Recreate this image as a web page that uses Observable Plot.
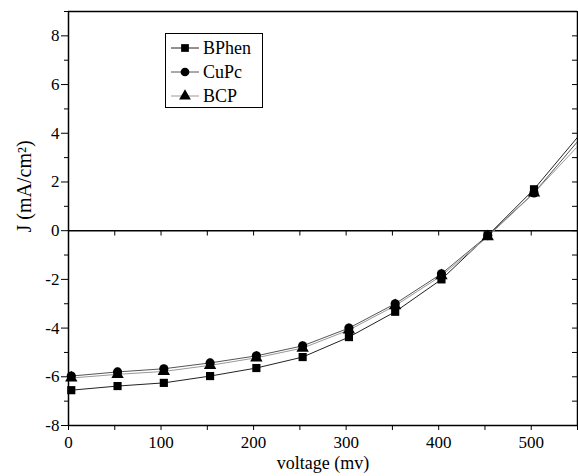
<!DOCTYPE html>
<html>
<head>
<meta charset="utf-8">
<script src="https://cdn.jsdelivr.net/npm/d3@7"></script>
<script src="https://cdn.jsdelivr.net/npm/@observablehq/plot@0.6"></script>
<style>
  html, body { margin: 0; padding: 0; background: white; }
  svg { display: block; }
  svg, svg text { font-family: "Liberation Serif", "Times New Roman", serif !important; }
</style>
</head>
<body>
<div id="chart"></div>
<script>
const voltage = [3, 53, 103, 153, 203, 253, 303, 353, 403, 453, 503, 553];
const bphen = [-6.55, -6.38, -6.25, -5.97, -5.64, -5.19, -4.37, -3.33, -2.0, -0.2, 1.7, 3.97];
const cupc  = [-5.97, -5.80, -5.67, -5.43, -5.14, -4.73, -4.00, -3.00, -1.77, -0.2, 1.55, 3.79];
const bcp   = [-6.05, -5.90, -5.78, -5.53, -5.22, -4.82, -4.08, -3.08, -1.85, -0.25, 1.55, 3.58];
const seriesNames = ["BPhen", "CuPc", "BCP"];
const seriesSymbols = ["square", "circle", "triangle"];
const seriesStrokes = ["#222", "#555", "#999"];
const xTickLabels = [0, 100, 200, 300, 400, 500];
const xMinorTicks = [50, 150, 250, 350, 450, 550];
const yTickLabels = [-8, -6, -4, -2, 0, 2, 4, 6, 8];
const yMinorTicks = [-7, -5, -3, -1, 1, 3, 5, 7, 9];
const xTitle = "voltage (mv)";
const yTitle = "J (mA/cm²)";

const rows = [];
[bphen, cupc, bcp].forEach((vals, i) => {
  vals.forEach((v, j) => rows.push({series: seriesNames[i], x: voltage[j], y: v, i}));
});

const font = "Liberation Serif, Times New Roman, serif";

const plot = Plot.plot({
  width: 578,
  height: 476,
  marginLeft: 68,
  marginRight: 1,
  marginTop: 11,
  marginBottom: 51,
  style: {fontFamily: font, fontSize: "17px", background: "white", color: "black"},
  x: {domain: [0, 550]},
  y: {domain: [-8, 9]},
  marks: [
    Plot.axisX({ticks: xTickLabels, tickSize: 5, tickPadding: 5, fontSize: 17, tickFormat: d => String(d), label: null}),
    Plot.axisX({ticks: xMinorTicks, tickSize: 5, text: null, label: null}),
    Plot.axisY({ticks: yTickLabels, tickSize: 7, tickPadding: 2, fontSize: 17, tickFormat: d => String(d), label: null}),
    Plot.axisY({ticks: yMinorTicks, tickSize: 4, text: null, label: null}),
    Plot.axisY({anchor: "right", ticks: d3.range(-8, 10), tickSize: -6, text: null, label: null}),
    Plot.text([xTitle], {frameAnchor: "bottom", dy: 38, fontSize: 18, text: d => d, lineAnchor: "middle"}),
    Plot.text([yTitle], {frameAnchor: "left", dx: -44, dy: 14, rotate: -90, fontSize: 20, text: d => d, lineAnchor: "middle"}),
    Plot.ruleY([9], {stroke: "black", strokeWidth: 1.5}),
    Plot.ruleY([-8], {stroke: "black", strokeWidth: 1.5}),
    Plot.ruleX([0], {stroke: "black", strokeWidth: 1.5}),
    Plot.ruleX([550], {stroke: "black", strokeWidth: 1.5}),
    Plot.ruleY([0], {stroke: "black", strokeWidth: 1.5}),
    Plot.ruleX(d3.range(50, 551, 50), {x: d => d, y1: 0, y2: -0.22, stroke: "black"}),
    Plot.line(rows, {x: "x", y: "y", z: "series", stroke: d => seriesStrokes[d.i], strokeWidth: 1, clip: true}),
    Plot.dot(rows.filter(d => d.x <= 550), {x: "x", y: "y", symbol: d => seriesSymbols[d.i], fill: "black", stroke: "none", r: 4.6})
  ]
});

document.getElementById("chart").appendChild(plot);

// Legend box (inside the SVG)
const svg = d3.select(plot);
const lg = svg.append("g").attr("font-family", font).attr("font-size", 18).attr("text-anchor", "start");
lg.append("rect").attr("x", 165.5).attr("y", 33.5).attr("width", 97).attr("height", 74)
  .attr("fill", "white").attr("stroke", "black").attr("stroke-width", 1);
seriesNames.forEach((name, i) => {
  const cy = 48 + i * 24;
  lg.append("line").attr("x1", 171).attr("x2", 199).attr("y1", cy).attr("y2", cy)
    .attr("stroke", seriesStrokes[i]).attr("stroke-width", 1);
  const sym = d3.symbol().type([d3.symbolSquare, d3.symbolCircle, d3.symbolTriangle][i]).size(60);
  lg.append("path").attr("d", sym()).attr("transform", `translate(185,${cy})`).attr("fill", "black");
  lg.append("text").attr("x", 203).attr("y", cy).attr("dy", "0.35em").attr("fill", "black").text(name);
});
</script>
</body>
</html>
